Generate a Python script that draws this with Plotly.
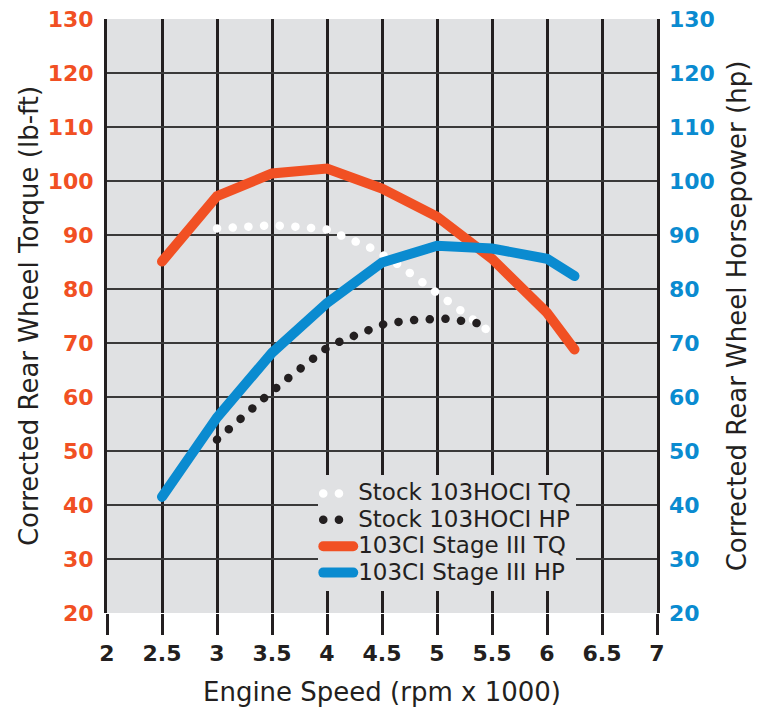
import plotly.graph_objects as go

# Engine speed (rpm x 1000) and readings taken off the dyno chart
stage3_rpm = [2.5, 3.0, 3.5, 4.0, 4.5, 5.0, 5.5, 6.0, 6.25]
stage3_tq = [85.1, 97.2, 101.4, 102.3, 98.6, 93.4, 85.6, 75.6, 68.8]
stage3_hp = [41.5, 56.2, 68.2, 77.4, 84.9, 88.0, 87.5, 85.6, 82.4]

stock_tq_rpm = [3.0, 3.25, 3.5, 3.75, 4.0, 4.13, 4.4, 4.65, 4.87, 5.1, 5.33, 5.45]
stock_tq = [91.2, 91.5, 91.8, 91.5, 91.0, 89.9, 87.6, 84.5, 81.2, 77.9, 74.3, 72.5]

stock_hp_rpm = [3.0, 3.21, 3.44, 3.66, 3.88, 4.0, 4.13, 4.26, 4.53, 4.81, 4.96, 5.1, 5.25, 5.39]
stock_hp = [52.1, 56.1, 60.0, 63.7, 67.3, 69.1, 70.4, 71.5, 73.6, 74.3, 74.6, 74.5, 74.0, 73.6]

x_ticks = [2, 2.5, 3, 3.5, 4, 4.5, 5, 5.5, 6, 6.5, 7]
y_ticks = [20, 30, 40, 50, 60, 70, 80, 90, 100, 110, 120, 130]

ORANGE = '#f15023'
BLUE = '#0a8bd0'
INK = '#231f20'
PANEL = '#e0e1e3'
FONT = 'DejaVu Sans'


def legend_name(text):
    # bigger text than the legend font, so rows stay tight like the original
    return f'<span style="font-size:23px">{text}</span>'


fig = go.Figure()

# draw order: blue, orange, black dots, white dots (white sits on top)
fig.add_trace(go.Scatter(
    x=stage3_rpm, y=stage3_hp, yaxis='y2', mode='lines',
    name=legend_name('103CI Stage III HP'), legendrank=4,
    line=dict(color=BLUE, width=10)
))
fig.add_trace(go.Scatter(
    x=stage3_rpm, y=stage3_tq, mode='lines',
    name=legend_name('103CI Stage III TQ'), legendrank=3,
    line=dict(color=ORANGE, width=10)
))
fig.add_trace(go.Scatter(
    x=stock_hp_rpm, y=stock_hp, yaxis='y2', mode='lines',
    name=legend_name('Stock 103HOCI HP'), legendrank=2,
    line=dict(color=INK, width=8.5, dash='0.1px,15.6px')
))
fig.add_trace(go.Scatter(
    x=stock_tq_rpm, y=stock_tq, mode='lines',
    name=legend_name('Stock 103HOCI TQ'), legendrank=1,
    line=dict(color='white', width=8.5, dash='0.1px,15.6px')
))

fig.update_layout(
    width=764, height=709,
    paper_bgcolor='white',
    plot_bgcolor=PANEL,
    margin=dict(l=107, r=107, t=19, b=96),
    font=dict(family=FONT, color=INK),
    xaxis=dict(
        range=[2, 7],
        tickvals=x_ticks,
        ticktext=[f'{v:g}' for v in x_ticks],
        ticks='outside', ticklen=21, tickwidth=2.5, tickcolor=INK,
        ticklabelstandoff=0,
        tickfont=dict(size=22, color=INK, weight='bold'),
        showgrid=True, gridcolor=INK, gridwidth=2.5,
        zeroline=False, showline=False, automargin=False,
        title=dict(text='Engine Speed (rpm x 1000)',
                   font=dict(size=26, color=INK), standoff=17),
    ),
    yaxis=dict(
        range=[20, 130],
        tickvals=y_ticks,
        ticks='', ticklabelstandoff=6,
        tickfont=dict(size=22, color=ORANGE, weight='bold'),
        showgrid=True, gridcolor='#3a3a3a', gridwidth=1.8,
        zeroline=False, automargin=False,
        showline=True, linecolor=INK, linewidth=3, mirror=True,
        title=dict(text='Corrected Rear Wheel Torque (lb-ft)',
                   font=dict(size=26, color=INK), standoff=2),
    ),
    yaxis2=dict(
        range=[20, 130],
        tickvals=y_ticks,
        overlaying='y', side='right',
        ticks='', ticklabelstandoff=11,
        tickfont=dict(size=22, color=BLUE, weight='bold'),
        showgrid=False, zeroline=False, showline=False, automargin=False,
        title=dict(text='Corrected Rear Wheel Horsepower (hp)',
                   font=dict(size=26, color=INK), standoff=13),
    ),
    showlegend=True,
    legend=dict(
        x=0.384, y=0.232, xanchor='left', yanchor='top',
        bgcolor=PANEL, borderwidth=0,
        font=dict(size=18, color=INK),
        itemwidth=30, tracegroupgap=0,
    ),
)

# drop the page margin so the figure sits flush in the window,
# and give the lines round caps (zero-length dashes become dots)
post = (
    "document.body.style.margin='0';"
    "document.querySelectorAll('path.js-line').forEach(function(p){p.style.strokeLinecap='round';});"
)

fig.write_html("out.html", post_script=post, config={'displayModeBar': False})
